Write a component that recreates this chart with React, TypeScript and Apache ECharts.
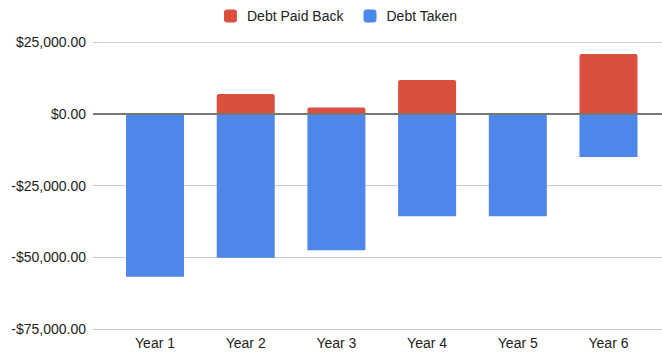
import React, { useEffect, useRef } from "react";
import * as echarts from "echarts";

const categories = ["Year 1", "Year 2", "Year 3", "Year 4", "Year 5", "Year 6"];
const debtPaidBack = [0, 6900, 2200, 11800, 0, 20800];
const debtTaken = [-56800, -50200, -47600, -35700, -35700, -15100];
const yTicks = [-75000, -50000, -25000, 0, 25000];

const fmt = (v: number) => {
  const s = "$" + Math.abs(v).toLocaleString("en-US", { minimumFractionDigits: 2, maximumFractionDigits: 2 });
  return v < 0 ? "-" + s : s;
};

export default function App() {
  const ref = useRef<HTMLDivElement>(null);
  useEffect(() => {
    document.body.style.margin = "0";
    const chart = echarts.init(ref.current!, null, { renderer: "svg" });
    const font = "Liberation Sans, Arial, sans-serif";
    chart.setOption({
      animation: false,
      textStyle: { fontFamily: font },
      legend: {
        top: 4,
        left: 219,
        icon: "roundRect",
        itemWidth: 13,
        itemHeight: 13,
        itemGap: 20,
        textStyle: { fontSize: 14, color: "#222", fontFamily: font, padding: [0, 0, 0, 5] },
        data: ["Debt Paid Back", "Debt Taken"],
      },
      grid: { left: 93, right: 0, top: 42, bottom: 32 },
      xAxis: {
        type: "value",
        min: -0.684,
        max: 5.59,
        splitLine: { show: false },
        axisLine: { show: false },
        axisTick: { show: false },
        axisLabel: {
          customValues: categories.map((_, i) => i),
          formatter: (v: number) => categories[Math.round(v)] ?? "",
          fontSize: 14,
          color: "#222",
          margin: 7,
          fontFamily: font,
        },
      },
      yAxis: {
        type: "value",
        min: yTicks[0],
        max: yTicks[yTicks.length - 1],
        interval: 25000,
        axisLine: { show: false },
        axisTick: { show: false },
        splitLine: { lineStyle: { color: "#cccccc", width: 1 } },
        axisLabel: { formatter: fmt, fontSize: 14, color: "#222", margin: 7, fontFamily: font },
      },
      series: [
        {
          name: "Debt Paid Back",
          type: "bar",
          stack: "s",
          barWidth: 58,
          itemStyle: { color: "#db4f3f", borderRadius: [2, 2, 0, 0] },
          data: debtPaidBack.map((v, i) => [i, v]),
        },
        {
          name: "Debt Taken",
          type: "bar",
          stack: "s",
          barWidth: 58,
          itemStyle: { color: "#4f86ea" },
          data: debtTaken.map((v, i) => [i, v]),
          markLine: {
            silent: true,
            symbol: "none",
            label: { show: false },
            lineStyle: { color: "#777777", width: 2, type: "solid" },
            data: [{ yAxis: 0 }],
          },
        },
      ],
    });
    return () => chart.dispose();
  }, []);
  return <div ref={ref} style={{ width: 662, height: 361 }} />;
}
